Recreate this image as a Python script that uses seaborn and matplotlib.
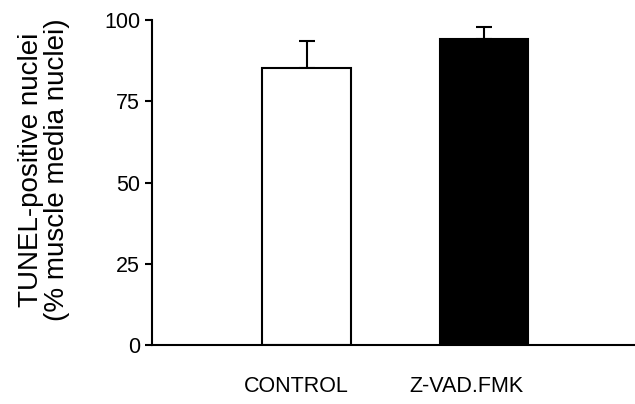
import pandas as pd
import numpy as np
import matplotlib
matplotlib.use("Agg")
import matplotlib.pyplot as plt
import seaborn as sns

# valores
groups = ["CONTROL", "Z-VAD.FMK"]
means = [85.3, 94.1]
sem_up = [8.1, 3.8]
bar_colors = ["white", "black"]

df = pd.DataFrame({"group": groups, "tunel": means})

sns.set_style("white")
plt.rcParams["font.family"] = ["Liberation Sans", "DejaVu Sans"]
plt.rcParams["text.color"] = "black"
plt.rcParams["axes.labelcolor"] = "black"
plt.rcParams["xtick.color"] = "black"
plt.rcParams["ytick.color"] = "black"

fig = plt.figure(figsize=(6.35, 4.04), dpi=100)
ax = fig.add_axes([0.2394, 0.146, 0.76, 0.8045])

sns.barplot(data=df, x="group", y="tunel", hue="group", palette=bar_colors,
            edgecolor="black", linewidth=1.5, width=0.5, legend=False, ax=ax)

# barras de error solo hacia arriba
xs = [p.get_x() + p.get_width() / 2 for p in ax.patches]
tops = [p.get_height() for p in ax.patches]
ax.errorbar(xs, tops, yerr=[np.zeros(len(sem_up)), sem_up], fmt="none",
            ecolor="black", elinewidth=1.5, capsize=5.5, capthick=1.5, zorder=0)

ax.set_xlim(-0.873, 1.85)
ax.set_ylim(0, 100)
ax.set_yticks([0, 25, 50, 75, 100])
ax.tick_params(axis="y", direction="out", length=5, width=1.5, labelsize=15.5, pad=3.5, left=True)
ax.set_xticks([-0.06, 0.9])
ax.set_xticklabels(groups, fontsize=15.5)
ax.tick_params(axis="x", length=0, pad=22)
ax.set_xlabel("")
ax.set_ylabel("TUNEL-positive nuclei\n(% muscle media nuclei)", fontsize=20, linespacing=1.0)
ax.yaxis.set_label_coords(-0.17, 0.54)

sns.despine(ax=ax)
for s in ["left", "bottom"]:
    ax.spines[s].set_linewidth(1.5)
    ax.spines[s].set_color("black")

fig.savefig("out.png", dpi=100)
